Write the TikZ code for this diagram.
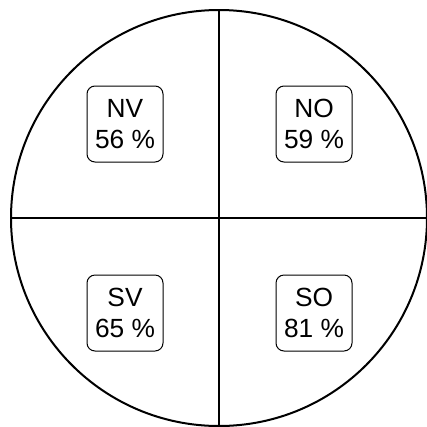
\documentclass[tikz,border=0pt]{standalone}
\usepackage{fontspec}
\setmainfont{Liberation Sans}

\begin{document}
\begin{tikzpicture}[x=1pt,y=-1pt,
    quad/.style={draw, line width=1pt, rounded corners=8pt, minimum width=76pt,
      minimum height=76pt, inner sep=0pt, align=center,
      font=\fontsize{26.3}{31.6}\selectfont}]
      \useasboundingbox (0,0) rectangle (427,426);
      \node[draw, circle, line width=2pt, minimum size=416pt, inner sep=0pt,
        outer sep=0pt] (disc) at (219,218) {};
      \draw[line width=2pt] (disc.north)--(disc.south);
      \draw[line width=2pt] (disc.west)--(disc.east);
      \foreach \n/\x/\y/\txt in {nv/125/124/{NV\\56 \%},no/314/124/{NO\\59 \%},
        sv/125/313/{SV\\65 \%},so/314/313/{SO\\81 \%}} {
        \node[quad] (\n) at (\x,\y) {\txt};
      }
    \end{tikzpicture}
\end{document}
